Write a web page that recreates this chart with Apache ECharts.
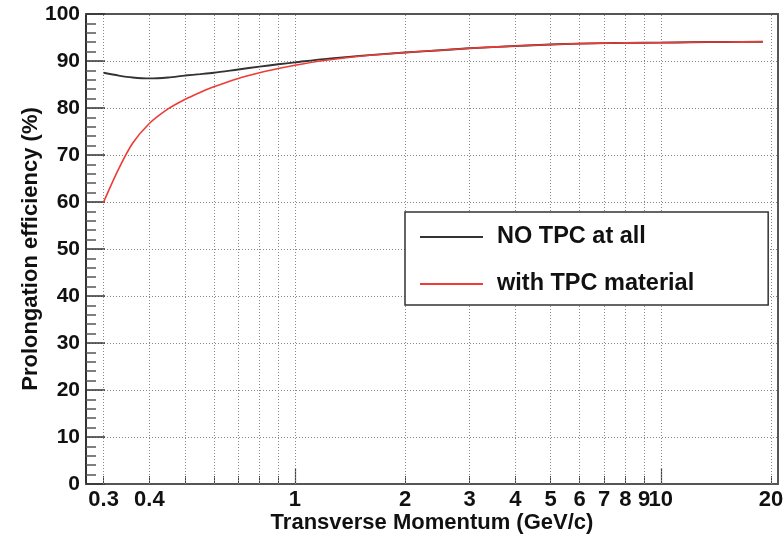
<!DOCTYPE html>
<html>
<head>
<meta charset="utf-8">
<script src="https://cdn.jsdelivr.net/npm/echarts@6/dist/echarts.min.js"></script>
<style>
html,body{margin:0;padding:0;background:#fff;}
#c{width:784px;height:536px;}
</style>
</head>
<body>
<div id="c"></div>
<script>
// Data
const momentum = [0.3, 0.33, 0.36, 0.4, 0.45, 0.5, 0.55, 0.6, 0.7, 0.8, 0.9, 1.0, 1.2, 1.5, 2, 2.5, 3, 4, 5, 6, 7, 8, 10, 12, 15, 19];
const noTPC    = [87.5, 86.9, 86.5, 86.3, 86.5, 86.9, 87.2, 87.5, 88.2, 88.8, 89.3, 89.7, 90.4, 91.1, 91.8, 92.3, 92.7, 93.2, 93.5, 93.7, 93.8, 93.85, 93.9, 94.0, 94.05, 94.1];
const withTPC  = [60.0, 67.1, 72.5, 76.7, 79.8, 81.8, 83.3, 84.5, 86.3, 87.5, 88.4, 89.1, 90.1, 91.0, 91.8, 92.3, 92.7, 93.2, 93.5, 93.7, 93.8, 93.85, 93.9, 94.0, 94.05, 94.1];
const xLabelValues = [0.3, 0.4, 1, 2, 3, 4, 5, 6, 7, 8, 9, 10, 20];
const xGridValues = [0.3, 0.4, 0.5, 0.6, 0.7, 0.8, 0.9, 1, 2, 3, 4, 5, 6, 7, 8, 9, 10, 20];
const xMajorTickValues = [1, 10];
const seriesNames = ['NO TPC at all', 'with TPC material'];

const FONT = 'Liberation Sans';
const xMin = 0.2685, xMax = 20.9;

const chart = echarts.init(document.getElementById('c'), null, {renderer: 'canvas'});

const frameLine = {show: true, lineStyle: {color: '#555', width: 2}};

chart.setOption({
  animation: false,
  backgroundColor: '#fff',
  grid: {left: 86, top: 14, width: 692, height: 470, containLabel: false, outerBoundsMode: 'none'},
  legend: {
    orient: 'vertical',
    left: 405,
    top: 212,
    data: seriesNames,
    itemWidth: 63,
    itemHeight: 22,
    itemGap: 23,
    padding: [13, 74, 9, 14],
    backgroundColor: '#fff',
    borderColor: '#333',
    borderWidth: 1.5,
    itemStyle: {opacity: 0},
    textStyle: {fontFamily: FONT, fontWeight: 'bold', fontSize: 23.5, color: '#111', lineHeight: 22, padding: [0, 0, 0, 9]}
  },
  xAxis: [
    {
      type: 'log', logBase: 10, min: xMin, max: xMax,
      position: 'bottom',
      name: 'Transverse Momentum (GeV/c)',
      nameLocation: 'middle',
      nameGap: 28,
      nameMoveOverlap: false,
      nameTextStyle: {fontFamily: FONT, fontWeight: 'bold', fontSize: 22, color: '#111'},
      axisLine: frameLine,
      axisTick: {show: true, inside: true, length: 8, customValues: xGridValues, lineStyle: {color: '#444', width: 1}},
      axisLabel: {show: true, customValues: xLabelValues, margin: 5, fontFamily: FONT, fontWeight: 'bold', fontSize: 22, color: '#111',
        formatter: v => String(+(+v).toPrecision(6))},
      splitLine: {show: false},
      minorTick: {show: false}
    },
    {
      type: 'log', logBase: 10, min: xMin, max: xMax,
      position: 'bottom',
      axisLine: {show: false},
      axisTick: {show: true, inside: true, length: 16, customValues: xMajorTickValues, lineStyle: {color: '#444', width: 1.2}},
      axisLabel: {show: false},
      splitLine: {show: false}
    },
    {
      type: 'log', logBase: 10, min: xMin, max: xMax,
      position: 'top',
      axisLine: frameLine,
      axisTick: {show: false},
      axisLabel: {show: false},
      splitLine: {show: false}
    }
  ],
  yAxis: [
    {
      type: 'value', min: 0, max: 100, interval: 10,
      position: 'left',
      name: 'Prolongation efficiency (%)',
      nameLocation: 'middle',
      nameGap: 44,
      nameMoveOverlap: false,
      nameTextStyle: {fontFamily: FONT, fontWeight: 'bold', fontSize: 22, color: '#111'},
      axisLine: {show: true, lineStyle: {color: '#333', width: 2}},
      axisTick: {show: true, inside: true, length: 19, lineStyle: {color: '#333', width: 1.5}},
      minorTick: {show: true, splitNumber: 5, length: 10, lineStyle: {color: '#555', width: 1.5}},
      axisLabel: {margin: 6, fontFamily: FONT, fontWeight: 'bold', fontSize: 21, color: '#111'},
      splitLine: {show: true, lineStyle: {color: '#888', width: 1, type: [1, 2]}}
    },
    {
      type: 'value', min: 0, max: 100, interval: 10,
      position: 'right',
      axisLine: frameLine,
      axisTick: {show: false},
      axisLabel: {show: false},
      splitLine: {show: false}
    }
  ],
  series: [
    {
      name: seriesNames[0],
      type: 'line',
      xAxisIndex: 0, yAxisIndex: 0,
      data: momentum.map((p, i) => [p, noTPC[i]]),
      smooth: 0.3,
      symbol: 'none',
      lineStyle: {color: '#333', width: 1.9},
      itemStyle: {color: '#333'},
      z: 3
    },
    {
      name: seriesNames[1],
      type: 'line',
      xAxisIndex: 0, yAxisIndex: 0,
      data: momentum.map((p, i) => [p, withTPC[i]]),
      smooth: 0.3,
      symbol: 'none',
      lineStyle: {color: '#ee3b36', width: 1.6},
      itemStyle: {color: '#ee3b36'},
      z: 4,
      markLine: {
        silent: true,
        symbol: 'none',
        label: {show: false},
        lineStyle: {color: '#888', width: 1, type: [1, 2]},
        data: xGridValues.map(v => ({xAxis: v})),
        z: 1
      }
    }
  ]
});
</script>
</body>
</html>
